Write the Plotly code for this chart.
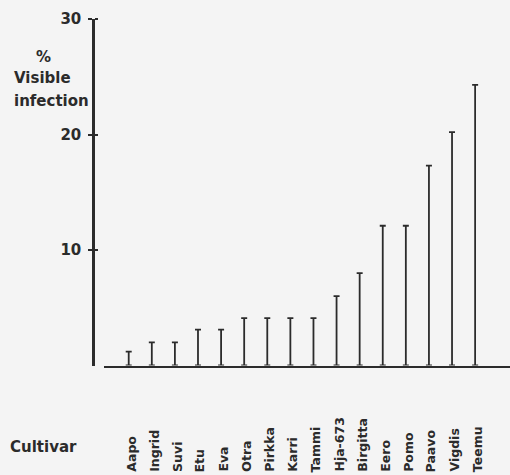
import plotly.graph_objects as go

cultivars = ["Aapo", "Ingrid", "Suvi", "Etu", "Eva", "Otra", "Pirkka", "Karri",
             "Tammi", "Hja-673", "Birgitta", "Eero", "Pomo", "Paavo", "Vigdis", "Teemu"]
infection = [1.2, 2.0, 2.0, 3.1, 3.1, 4.1, 4.1, 4.1, 4.1, 6.0, 8.0, 12.1, 12.1, 17.3, 20.2, 24.3]
y_ticks = [10, 20, 30]

W, H = 510, 475
ink = "#2b2b2b"
bg = "#f4f4f4"
font_family = "DejaVu Sans, Verdana, sans-serif"

def px(x):
    return x / W

def py(y):
    return (H - y) / H

fig = go.Figure()
fig.add_trace(go.Scatter(
    x=cultivars,
    y=[0] * len(cultivars),
    mode="markers",
    marker=dict(size=1, opacity=0),
    error_y=dict(type="data", symmetric=False, array=infection,
                 arrayminus=[0] * len(cultivars),
                 color=ink, thickness=1.8, width=3),
    hoverinfo="skip",
    showlegend=False,
))

annotations = []
for c in cultivars:
    annotations.append(dict(
        x=c, xref="x", y=py(474), yref="paper", text="<b>%s</b>" % c,
        textangle=-90, xanchor="center", yanchor="bottom", xshift=2,
        showarrow=False, font=dict(family=font_family, size=12.5, color=ink),
    ))

for txt, x, y, xa in [("%", 43, 57, "center"), ("Visible", 12, 78, "left"),
                      ("infection", 12, 101, "left"), ("Cultivar", 8, 447, "left")]:
    annotations.append(dict(
        x=px(x), xref="paper", y=py(y), yref="paper", text="<b>%s</b>" % txt,
        xanchor=xa, yanchor="middle", showarrow=False,
        font=dict(family=font_family, size=15, color=ink),
    ))

fig.update_layout(
    width=W, height=H,
    margin=dict(l=0, r=0, t=0, b=0, autoexpand=False),
    paper_bgcolor=bg, plot_bgcolor=bg,
    xaxis=dict(
        type="category", domain=[px(104), 1], range=[-1.07, 16.51],
        showline=True, linecolor=ink, linewidth=2.2, showgrid=False,
        zeroline=False, showticklabels=False, ticks="", anchor="y",
        fixedrange=True,
    ),
    yaxis=dict(
        domain=[py(365.5), py(19)], range=[0, 30], anchor="free",
        position=px(93), showline=True, linecolor=ink, linewidth=2.5,
        showgrid=False, zeroline=False, tickmode="array", tickvals=y_ticks,
        ticktext=["<b>%d</b>" % v for v in y_ticks],
        ticks="outside", ticklen=4, tickwidth=1.5, tickcolor=ink,
        ticklabelstandoff=4,
        minor=dict(ticks="inside", tickvals=y_ticks, ticklen=3, tickwidth=1.5, tickcolor=ink),
        tickfont=dict(family=font_family, size=15, color=ink),
        automargin=False, fixedrange=True,
    ),
    annotations=annotations,
)

fig.write_html("out.html", config={"displayModeBar": False},
               post_script="document.body.style.margin='0';document.body.style.overflow='hidden';")
